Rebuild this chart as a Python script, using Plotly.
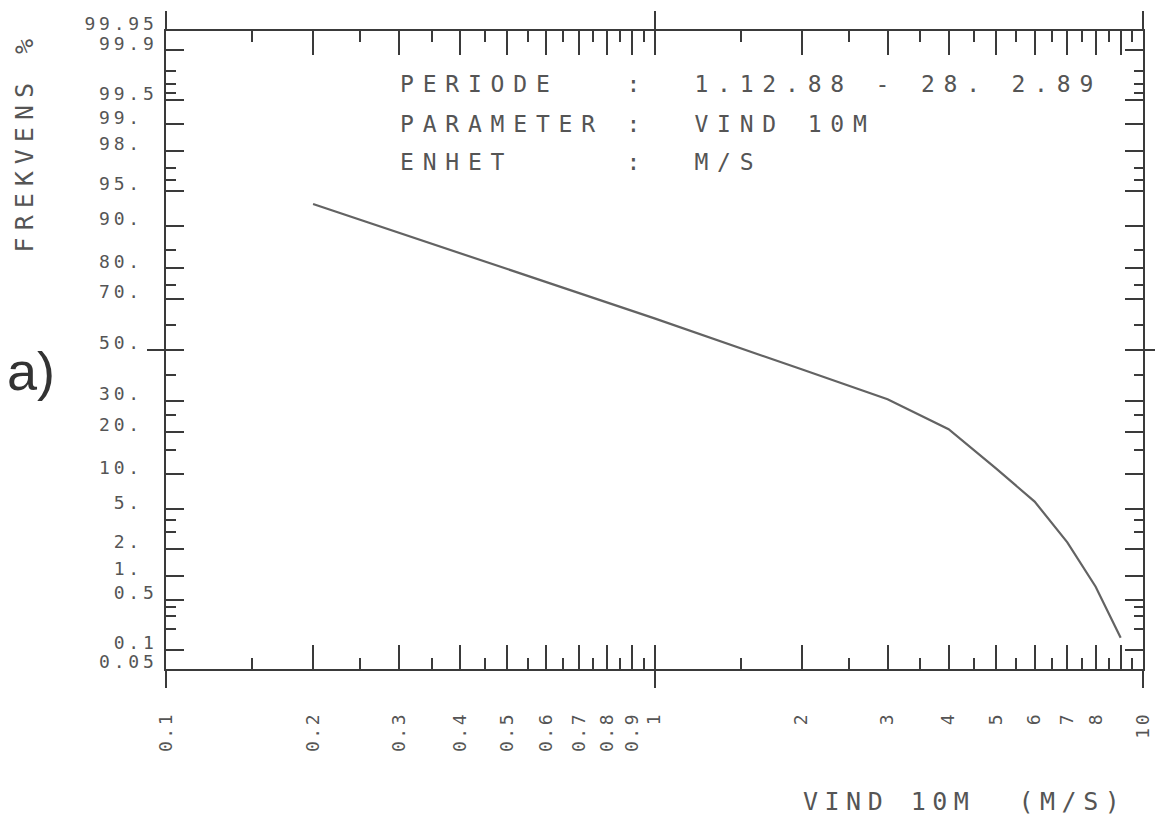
from statistics import NormalDist
import plotly.graph_objects as go

# Wind at 10 m: percentage of time each wind speed is exceeded
wind_speed = [0.2, 1, 2, 3, 4, 5, 6, 7, 8, 9]
exceed_pct = [93.4, 62.8, 42.1, 30.6, 20.7, 11.1, 5.9, 2.36, 0.73, 0.15]

# probability (normal-score) axis
prob_ticks = [99.95, 99.9, 99.5, 99, 98, 95, 90, 80, 70, 50, 30, 20, 10, 5, 2, 1, 0.5, 0.1, 0.05]
prob_labels = ["99.95", " 99.9", " 99.5", " 99. ", " 98. ", " 95. ", " 90. ", " 80. ", " 70. ",
               " 50. ", " 30. ", " 20. ", " 10. ", "  5. ", "  2. ", "  1. ", "  0.5", "  0.1", " 0.05"]
prob_minor = [99.8, 99.7, 99.6, 97, 96, 85, 75, 60, 40, 25, 15, 4, 3, 0.4, 0.3, 0.2]

# logarithmic wind-speed axis
speed_ticks = [0.1, 0.2, 0.3, 0.4, 0.5, 0.6, 0.7, 0.8, 0.9, 1, 2, 3, 4, 5, 6, 7, 8, 9, 10]
speed_labels = ["0.1", "0.2", "0.3", "0.4", "0.5", "0.6", "0.7", "0.8", "0.9",
                "1", "2", "3", "4", "5", "6", "7", "8", "", "10"]
speed_minor = [0.15, 0.25, 0.35, 0.45, 0.55, 0.65, 0.75, 0.85, 0.95,
               1.5, 2.5, 3.5, 4.5, 5.5, 6.5, 7.5, 8.5, 9.5]

info_lines = ["PERIODE   :  1.12.88 - 28. 2.89",
              "PARAMETER :  VIND 10M",
              "ENHET     :  M/S"]
x_title = "VIND 10M  (M/S)"
y_title = "FREKVENS %"
panel_tag = "a)"

nd = NormalDist()


def probit(p):
    return nd.inv_cdf(p / 100.0)


def spaced(text, gap):
    body = text.replace(" ", "\u00a0")
    return '<span style="letter-spacing:%.1fpx">%s</span>' % (gap, body)


W, H = 1166, 819
PL, PR, PT, PB = 166, 1153, 25, 669


def fx(px):
    return (px - PL) / (PR - PL)


def fy(py):
    return (PB - py) / (PB - PT)


MONO = "DejaVu Sans Mono"
INK = "#3a3a3a"
TXT = "#555555"
zmax = probit(99.95)
yrange = [-zmax, zmax]
xrange_log = [-1, 1]

fig = go.Figure()
fig.add_trace(go.Scatter(
    x=wind_speed, y=[probit(p) for p in exceed_pct],
    mode="lines", line=dict(color="#636363", width=2.2),
    xaxis="x", yaxis="y", showlegend=False, hoverinfo="skip"))
# empty traces that carry the frame axes (top/right and crossing ticks)
for xa, ya in [("x2", "y2"), ("x3", "y3"), ("x4", "y4")]:
    fig.add_trace(go.Scatter(x=[], y=[], xaxis=xa, yaxis=ya,
                             showlegend=False, hoverinfo="skip"))

common_x = dict(type="log", range=xrange_log, showgrid=False, zeroline=False)
common_y = dict(range=yrange, showgrid=False, zeroline=False)

fig.update_layout(
    width=W, height=H,
    margin=dict(l=PL, r=W - PR, t=PT, b=H - PB),
    paper_bgcolor="white", plot_bgcolor="white",
    showlegend=False,
    xaxis=dict(
        **common_x, anchor="y", side="bottom",
        showline=True, linecolor=INK, linewidth=1.6,
        ticks="inside", ticklen=24, tickwidth=1.5, tickcolor=INK,
        tickmode="array", tickvals=speed_ticks,
        ticktext=[spaced(t, 2.5) for t in speed_labels],
        tickangle=-90, ticklabelstandoff=34,
        tickfont=dict(family=MONO, size=18, color=TXT),
        minor=dict(tickmode="array", tickvals=speed_minor, ticks="inside",
                   ticklen=11, tickwidth=1.5, tickcolor=INK, showgrid=False),
    ),
    xaxis2=dict(
        **common_x, overlaying="x", anchor="y2", side="top",
        showline=True, linecolor=INK, linewidth=1.6,
        ticks="inside", ticklen=24, tickwidth=1.5, tickcolor=INK,
        tickmode="array", tickvals=speed_ticks, showticklabels=False,
        minor=dict(tickmode="array", tickvals=speed_minor, ticks="inside",
                   ticklen=11, tickwidth=1.5, tickcolor=INK, showgrid=False),
    ),
    xaxis3=dict(
        **common_x, overlaying="x", anchor="y3", side="bottom",
        showline=False, ticks="outside", ticklen=18, tickwidth=1.5, tickcolor=INK,
        tickmode="array", tickvals=[0.1, 1, 10], showticklabels=False,
    ),
    xaxis4=dict(
        **common_x, overlaying="x", anchor="y4", side="top",
        showline=False, ticks="outside", ticklen=19, tickwidth=1.5, tickcolor=INK,
        tickmode="array", tickvals=[0.1, 1, 10], showticklabels=False,
    ),
    yaxis=dict(
        **common_y, anchor="x", side="left",
        showline=True, linecolor=INK, linewidth=1.6,
        ticks="inside", ticklen=18, tickwidth=1.5, tickcolor=INK,
        tickmode="array", tickvals=[probit(p) for p in prob_ticks],
        ticktext=[spaced(t, 3.8) for t in prob_labels],
        ticklabelstandoff=3, ticklabelshift=-7,
        tickfont=dict(family=MONO, size=18, color=TXT),
        minor=dict(tickmode="array", tickvals=[probit(p) for p in prob_minor],
                   ticks="inside", ticklen=10, tickwidth=1.5, tickcolor=INK,
                   showgrid=False),
    ),
    yaxis2=dict(
        **common_y, overlaying="y", anchor="x2", side="right",
        showline=True, linecolor=INK, linewidth=1.6,
        ticks="inside", ticklen=18, tickwidth=1.5, tickcolor=INK,
        tickmode="array", tickvals=[probit(p) for p in prob_ticks],
        showticklabels=False,
        minor=dict(tickmode="array", tickvals=[probit(p) for p in prob_minor],
                   ticks="inside", ticklen=9, tickwidth=1.5, tickcolor=INK,
                   showgrid=False),
    ),
    yaxis3=dict(
        **common_y, overlaying="y", anchor="x3", side="left",
        showline=False, ticks="outside", ticklen=18, tickwidth=1.5, tickcolor=INK,
        tickmode="array", tickvals=[probit(50)], showticklabels=False,
    ),
    yaxis4=dict(
        **common_y, overlaying="y", anchor="x4", side="right",
        showline=False, ticks="outside", ticklen=11, tickwidth=1.5, tickcolor=INK,
        tickmode="array", tickvals=[probit(50)], showticklabels=False,
    ),
)

annotations = []
for row, py in zip(info_lines, [79, 119, 157]):
    annotations.append(dict(
        text=spaced(row, 8.8), x=fx(400), y=fy(py), xref="paper", yref="paper",
        xanchor="left", yanchor="middle", showarrow=False,
        font=dict(family=MONO, size=23, color=TXT)))
annotations.append(dict(
    text=spaced(x_title, 6.5), x=fx(808), y=fy(803), xref="paper", yref="paper",
    xanchor="left", yanchor="middle", showarrow=False,
    font=dict(family=MONO, size=25, color=TXT)))
annotations.append(dict(
    text=spaced(y_title, 7), x=fx(24), y=fy(137), xref="paper", yref="paper",
    xanchor="center", yanchor="middle", textangle=-90, showarrow=False,
    font=dict(family=MONO, size=25, color=TXT)))
annotations.append(dict(
    text=panel_tag, x=fx(30), y=fy(368), xref="paper", yref="paper",
    xanchor="center", yanchor="middle", showarrow=False,
    font=dict(family="Liberation Sans", size=54, color="#333333")))
fig.update_layout(annotations=annotations)

fig.write_html("out.html")
